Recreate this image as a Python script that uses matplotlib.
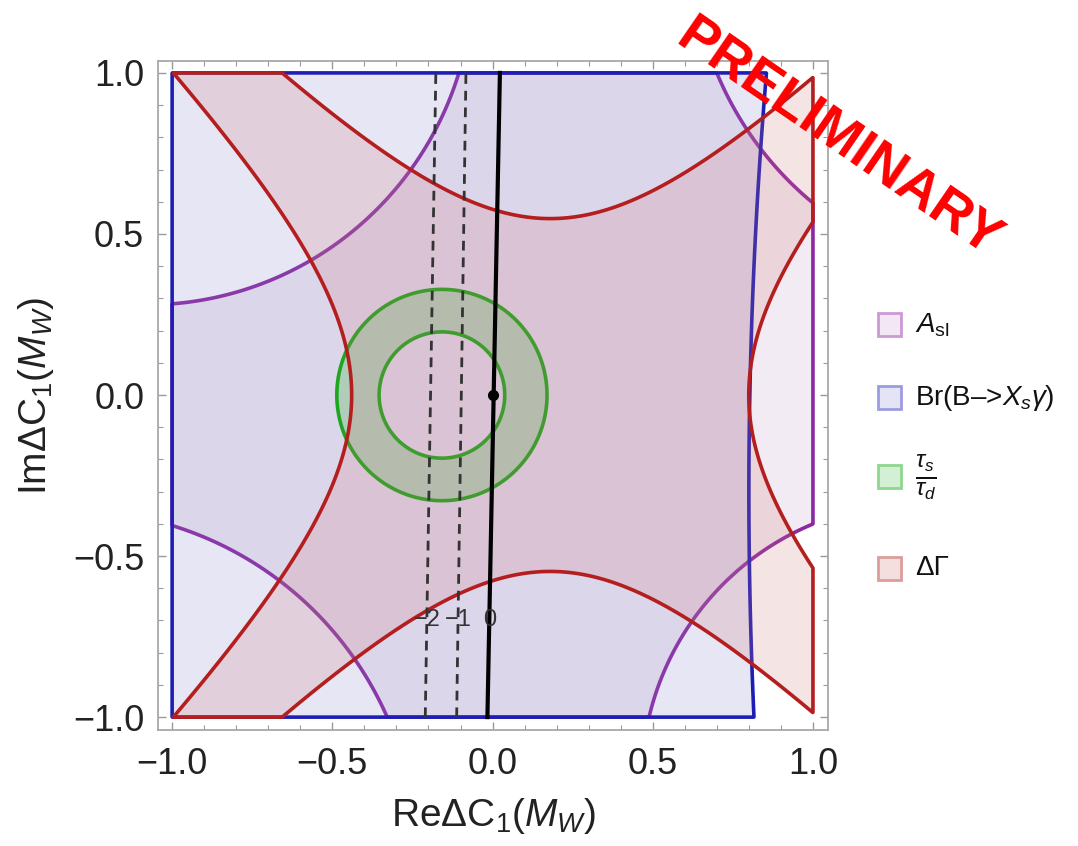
import numpy as np
import matplotlib.pyplot as plt
from matplotlib.patches import Rectangle
from matplotlib.ticker import MultipleLocator

plt.rcParams['font.family'] = ['Liberation Sans', 'DejaVu Sans']
plt.rcParams['mathtext.fontset'] = 'custom'
plt.rcParams['mathtext.rm'] = 'Liberation Sans'
plt.rcParams['mathtext.it'] = 'Liberation Sans:italic'
plt.rcParams['mathtext.bf'] = 'Liberation Sans:bold'

# A_sl: square minus four excluded discs (centre x, centre y, radius)
asl_cx = [-1.08, -1.316, 1.66, 1.33]
asl_cy = [1.30, -1.438, 1.40, -1.20]
asl_r = [1.02, 1.08, 1.04, 0.865]

# Br(B->Xs gamma): square minus one large disc on the right
br_cx, br_cy, br_r = 16.2, -0.30, 15.4

# tau_s/tau_d: annulus
tau_cx, tau_cy = -0.158, 0.0
tau_r_in, tau_r_out = 0.196, 0.328

# Delta Gamma: lo <= (x - x0)^2 - y^2 <= hi
dg_x0 = 0.18
dg_lo, dg_hi = -0.30, 0.384

# contour lines: x at y=-1 and y=+1, with their level labels
cont_labels = ['\u22122', '\u22121', '0']
cont_x_bot = [-0.21, -0.112, -0.016]
cont_x_top = [-0.177, -0.083, 0.023]
cont_label_y = -0.70

ticks = [-1.0, -0.5, 0.0, 0.5, 1.0]
tick_labels = ['\u22121.0', '\u22120.5', '0.0', '0.5', '1.0']

legend_labels = [r'$A_{\mathrm{sl}}$', 'Br(B\u2013>$X_s\\gamma$)',
                 r'$\frac{\tau_s}{\tau_d}$', '\u0394\u0393']

# region styles: fill colour, fill alpha, edge colour
styles = {
    'asl': ('#c39bc3', 0.2, '#8c28a0'),
    'br': ('#8282cd', 0.2, '#1e1eb4'),
    'tau': ('#3cb43c', 0.27, '#1fa61f'),
    'dg': ('#cd7878', 0.2, '#b41e1e'),
}

g = np.linspace(-1.06, 1.06, 1500)
X, Y = np.meshgrid(g, g)
box = np.minimum(1 - np.abs(X), 1 - np.abs(Y))

f_asl = box.copy()
for cx, cy, r in zip(asl_cx, asl_cy, asl_r):
    f_asl = np.minimum(f_asl, np.hypot(X - cx, Y - cy) - r)
f_br = np.minimum(box, np.hypot(X - br_cx, Y - br_cy) - br_r)
d = np.hypot(X - tau_cx, Y - tau_cy)
f_tau = np.minimum(box, np.minimum(d - tau_r_in, tau_r_out - d))
u = (X - dg_x0) ** 2 - Y ** 2
f_dg = np.minimum(box, np.minimum(u - dg_lo, dg_hi - u))

fig = plt.figure(figsize=(10.78, 8.46), dpi=100)
ax = fig.add_axes([0.1466, 0.1371, 0.6215, 0.7908])

for z, (key, f) in enumerate([('asl', f_asl), ('br', f_br), ('tau', f_tau), ('dg', f_dg)]):
    fc, a, ec = styles[key]
    ax.contourf(X, Y, f, levels=[0, 10], colors=[fc], alpha=a, zorder=2 + z)
    ax.contour(X, Y, f, levels=[0], colors=[ec], linewidths=2.6, zorder=2 + z)

# contour lines with labels
for i, lab in enumerate(cont_labels):
    if lab == '0':
        ax.plot([cont_x_bot[i], cont_x_top[i]], [-1, 1], color='black', lw=3.0, zorder=8)
    else:
        ax.plot([cont_x_bot[i], cont_x_top[i]], [-1, 1], color='#333333', lw=2.0,
                dashes=(3.5, 2.5), zorder=8)
    xl = cont_x_bot[i] + (cont_x_top[i] - cont_x_bot[i]) * (cont_label_y + 1) / 2
    ax.text(xl, cont_label_y, lab, fontsize=17, color='#333333', ha='center',
            va='center', zorder=9)
ax.plot([0], [0], 'o', color='black', ms=7, zorder=10)

ax.set_xlim(-1.044, 1.047)
ax.set_ylim(-1.040, 1.037)
ax.set_xticks(ticks)
ax.set_xticklabels(tick_labels)
ax.set_yticks(ticks)
ax.set_yticklabels(tick_labels)
ax.xaxis.set_minor_locator(MultipleLocator(0.1))
ax.yaxis.set_minor_locator(MultipleLocator(0.1))
ax.tick_params(which='both', direction='in', top=True, right=True,
               color='#9a9a9a', labelcolor='#222222')
ax.tick_params(which='major', length=6, width=1, labelsize=26)
ax.tick_params(axis='x', which='major', pad=12)
ax.tick_params(axis='y', which='major', pad=10)
ax.tick_params(which='minor', length=3.5, width=0.8)
for s in ax.spines.values():
    s.set_color('#a8a8a8')
    s.set_linewidth(1.3)

ax.set_xlabel(r'Re$\Delta$C$_1$($M_W$)', fontsize=28, color='#222222', labelpad=10)
ax.set_ylabel(r'Im$\Delta$C$_1$($M_W$)', fontsize=28, color='#222222', labelpad=12)

# legend
leg_fill = ['#f3e6f5', '#e4e4f6', '#d4f0d4', '#f4dede']
leg_edge = ['#cc99d6', '#9c9ce2', '#8fd68f', '#dc9c9c']
leg_size = [20, 20, 25, 20]
leg_y = [325, 398, 477, 568]
W, H = 1078.0, 846.0
for lab, fc, ec, fs, yc in zip(legend_labels, leg_fill, leg_edge, leg_size, leg_y):
    fig.add_artist(Rectangle((878 / W, 1 - (yc + 11.5) / H), 23 / W, 23 / H,
                             facecolor=fc, edgecolor=ec, lw=2,
                             transform=fig.transFigure))
    fig.text(915 / W, 1 - yc / H, lab, fontsize=fs, color='#111111',
             ha='left', va='center')

fig.text(838 / W, 1 - 139 / H, 'PRELIMINARY', fontsize=40, fontweight='bold',
         color='red', rotation=-34.5, ha='center', va='center',
         rotation_mode='anchor', zorder=20)

fig.savefig('out.png', dpi=100)
